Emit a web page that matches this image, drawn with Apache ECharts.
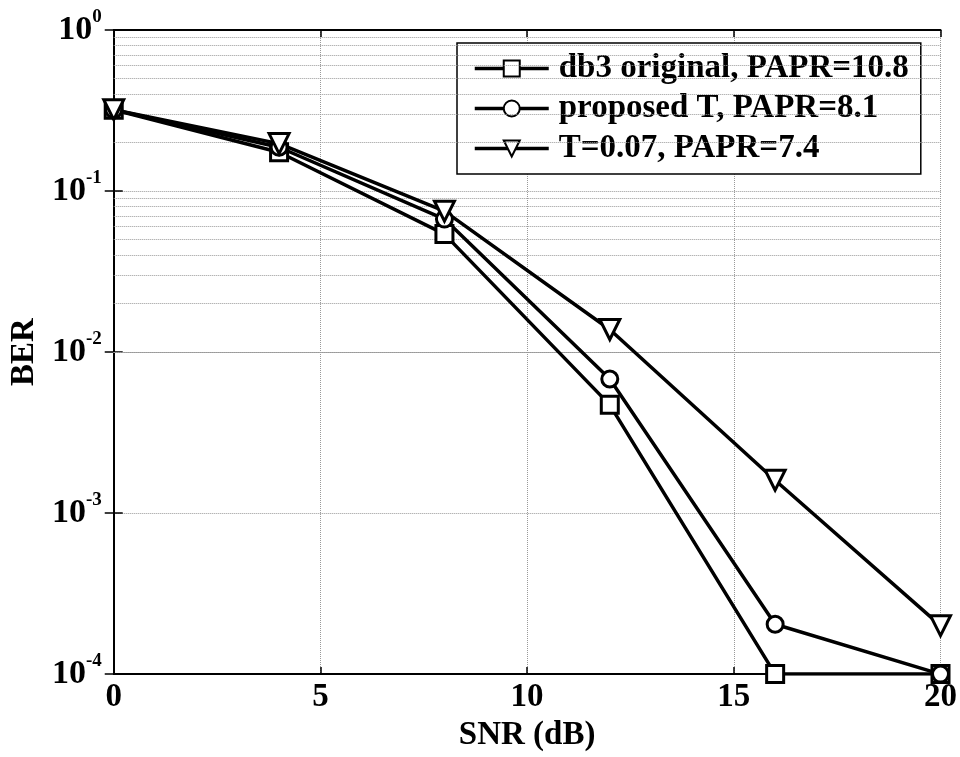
<!DOCTYPE html>
<html>
<head>
<meta charset="utf-8">
<script src="https://cdn.jsdelivr.net/npm/echarts@6/dist/echarts.min.js"></script>
<style>
	html, body { margin: 0; padding: 0; background: #fff; }
	#main { width: 960px; height: 757px; }
</style>
</head>
<body>
<div id="main"></div>
<script>
// data
var snr = [0, 4, 8, 12, 16, 20];
var berDb3 = [0.32, 0.174, 0.054, 0.0047, 0.0001, 0.0001];
var berProposed = [0.32, 0.187, 0.067, 0.0068, 0.000204, 0.0001];
var berT007 = [0.32, 0.197, 0.075, 0.0138, 0.0016, 0.0002];
var names = ['db3 original, PAPR=10.8', 'proposed T, PAPR=8.1', 'T=0.07, PAPR=7.4'];
var decades = [1e-4, 1e-3, 1e-2, 1e-1];
var minorSteps = [2, 3, 4, 5, 6, 7, 8, 9];

var FONT = '"Liberation Serif", "Times New Roman", serif';

function pairs(ys) {
	return snr.map(function(x, i) { return [x, ys[i]]; });
}

// minor log grid lines 2..9 x each decade
var minorLines = [];
decades.forEach(function(d) {
	minorSteps.forEach(function(m) {
		minorLines.push({ yAxis: d * m });
	});
});

var myChart = echarts.init(document.getElementById('main'));

var lineSeries = function(name, ys, symbol, size, rotate) {
	return {
		name: name,
		type: 'line',
		data: pairs(ys),
		symbol: symbol,
		symbolSize: size,
		symbolRotate: rotate || 0,
		showAllSymbol: true,
		z: 5,
		lineStyle: { color: '#000', width: 3.5 },
		itemStyle: { color: '#fff', borderColor: '#000', borderWidth: 3 },
		emphasis: { disabled: true }
	};
};

var option = {
	animation: false,
	backgroundColor: '#fff',
	grid: {
		left: 113,
		right: 15,
		top: 30,
		bottom: 78
	},
	legend: {
		data: names,
		orient: 'vertical',
		left: 457,
		top: 43,
		padding: [9, 12, 9, 16],
		itemGap: 7,
		itemWidth: 74,
		itemHeight: 20,
		backgroundColor: '#fff',
		borderColor: '#000',
		borderWidth: 1.5,
		borderRadius: 0,
		lineStyle: { color: '#000', width: 3.5 },
		textStyle: {
			fontFamily: FONT,
			fontWeight: 'bold',
			fontSize: 33,
			color: '#000',
			padding: [0, 0, 0, 5]
		},
		selectedMode: false
	},
	xAxis: [{
		type: 'value',
		min: 0,
		max: 20,
		interval: 5,
		name: 'SNR (dB)',
		nameLocation: 'middle',
		nameGap: 36,
		nameTextStyle: {
			fontFamily: FONT,
			fontWeight: 'bold',
			fontSize: 33,
			color: '#000'
		},
		axisLine: { lineStyle: { color: '#000', width: 2 } },
		axisTick: { inside: true, length: 7, lineStyle: { color: '#000', width: 1.5 } },
		axisLabel: {
			margin: 7,
			fontFamily: FONT,
			fontWeight: 'bold',
			fontSize: 33,
			color: '#000'
		},
		splitLine: { show: true, lineStyle: { color: '#999', type: 'dotted', width: 1 } }
	}, {
		type: 'value',
		position: 'top',
		min: 0,
		max: 20,
		interval: 5,
		axisLine: { show: true, lineStyle: { color: '#000', width: 2 } },
		axisTick: { inside: true, length: 7, lineStyle: { color: '#000', width: 1.5 } },
		axisLabel: { show: false },
		splitLine: { show: false }
	}],
	yAxis: [{
		type: 'log',
		logBase: 10,
		min: 1e-4,
		max: 1,
		name: 'BER',
		nameLocation: 'middle',
		nameGap: 68,
		nameRotate: 90,
		nameTextStyle: {
			fontFamily: FONT,
			fontWeight: 'bold',
			fontSize: 33,
			color: '#000'
		},
		axisLine: { show: true, lineStyle: { color: '#000', width: 2 } },
		axisTick: { inside: true, length: 9, lineStyle: { color: '#000', width: 1.5 } },
		axisLabel: {
			margin: 12,
			formatter: function(v) {
				var e = Math.round(Math.log10(v));
				return '{b|10}{s|' + e + '}';
			},
			rich: {
				b: { fontFamily: FONT, fontWeight: 'bold', fontSize: 34, color: '#000' },
				s: { fontFamily: FONT, fontWeight: 'bold', fontSize: 19, color: '#000', padding: [0, 0, 26, 0] }
			}
		},
		splitLine: { show: true, lineStyle: { color: '#999', type: 'dotted', width: 1 } }
	}, {
		type: 'log',
		logBase: 10,
		position: 'right',
		min: 1e-4,
		max: 1,
		axisLine: { show: true, lineStyle: { color: '#000', width: 2 } },
		axisTick: { inside: true, length: 9, lineStyle: { color: '#000', width: 1.5 } },
		axisLabel: { show: false },
		splitLine: { show: false }
	}],
	series: [{
		name: 'grid-minor',
		type: 'line',
		data: [],
		z: 1,
		silent: true,
		markLine: {
			silent: true,
			symbol: 'none',
			label: { show: false },
			lineStyle: { color: '#999', type: 'dotted', width: 1 },
			data: minorLines
		}
	},
		lineSeries(names[0], berDb3, 'rect', 17),
		lineSeries(names[1], berProposed, 'circle', 16),
		lineSeries(names[2], berT007, 'triangle', 20, 180)
	]
};
myChart.setOption(option);
</script>
</body>
</html>
